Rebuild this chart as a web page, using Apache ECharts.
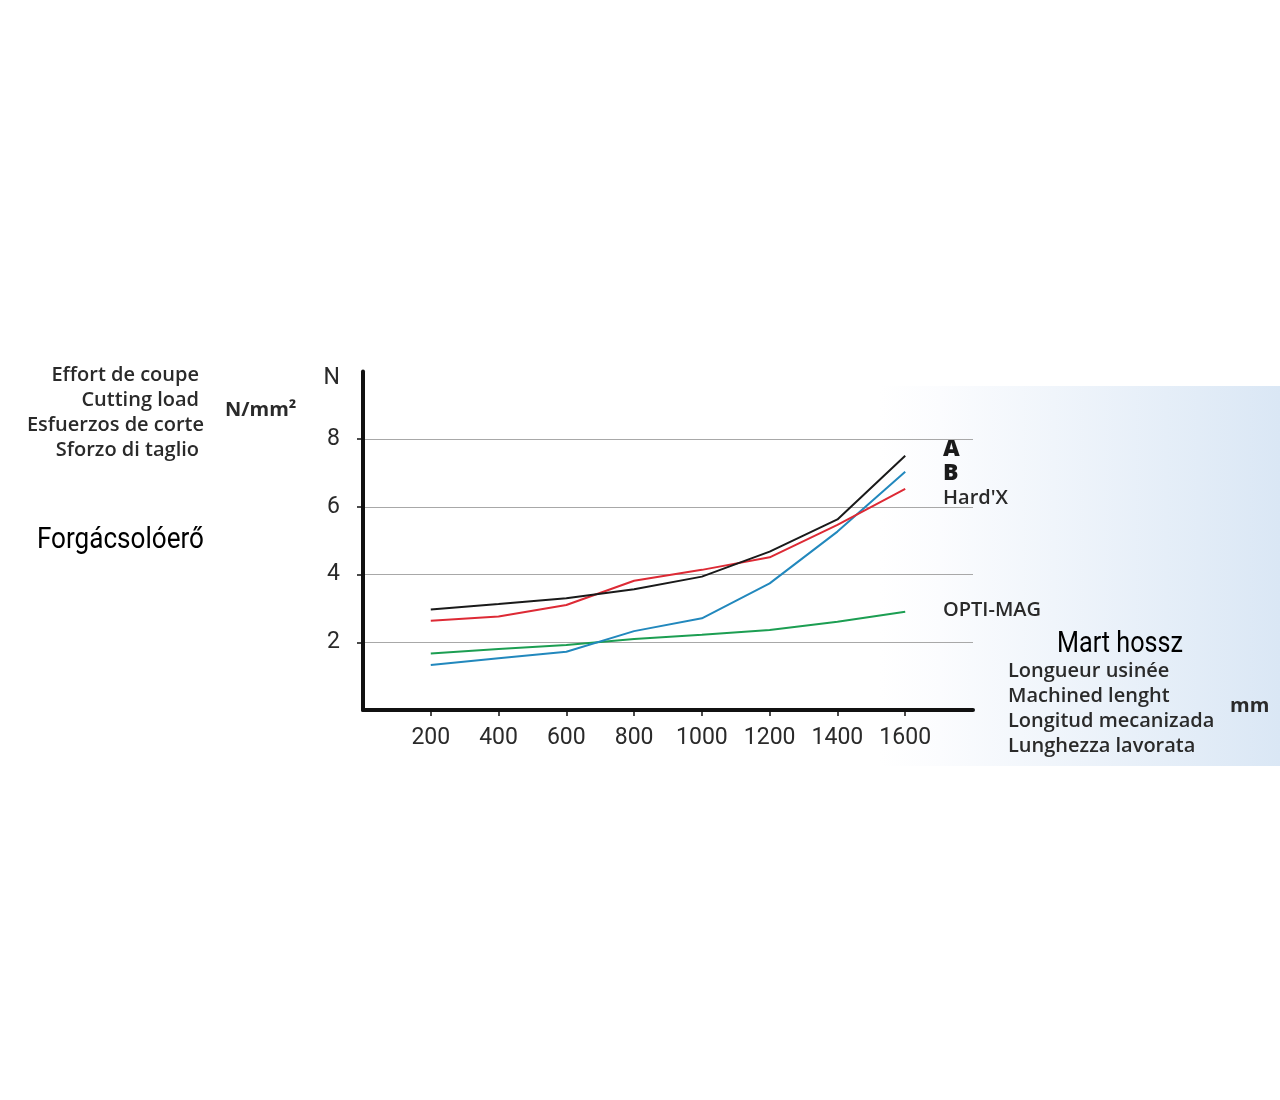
<!DOCTYPE html>
<html>
<head>
<meta charset="utf-8">
<script src="https://cdn.jsdelivr.net/npm/echarts@6/dist/echarts.min.js"></script>
<style>html,body{margin:0;padding:0;background:#fff}#c{width:1280px;height:1100px}</style>
</head>
<body>
<div id="c"></div>
<script>
var lengths = [200, 400, 600, 800, 1000, 1200, 1400, 1600];
var seriesA = [2.97, 3.13, 3.30, 3.57, 3.94, 4.68, 5.63, 7.51];
var seriesHardX = [2.64, 2.76, 3.10, 3.82, 4.14, 4.51, 5.47, 6.53];
var seriesB = [1.33, 1.53, 1.72, 2.33, 2.71, 3.74, 5.27, 7.04];
var seriesOptiMag = [1.67, 1.80, 1.92, 2.10, 2.22, 2.36, 2.61, 2.90];
var yTickLabels = [2, 4, 6, 8, 10];
var leftTitles = ['Effort de coupe', 'Cutting load', 'Esfuerzos de corte', 'Sforzo di taglio'];
var bottomTitles = ['Longueur usinée', 'Machined lenght', 'Longitud mecanizada', 'Lunghezza lavorata'];

function pairs(vals) { return lengths.map(function (x, i) { return [x, vals[i]]; }); }

var narrow = "Roboto, 'Noto Sans', sans-serif";
var semi = "'Open Sans', 'Noto Sans', sans-serif";

var chart = echarts.init(document.getElementById('c'));
function mk(name, data, color) {
  return { name: name, type: 'line', data: pairs(data), symbol: 'none', smooth: false,
    lineStyle: { color: color, width: 2 }, z: 5 };
}
var graphics = [
  { type: 'rect', shape: { x: 880, y: 386, width: 400, height: 380 }, z: -10,
    style: { fill: new echarts.graphic.LinearGradient(0, 0, 1, 0, [
      { offset: 0, color: 'rgba(255,255,255,1)' },
      { offset: 0.15, color: '#fbfcfe' },
      { offset: 1, color: '#dae7f5' }]) } }
];
leftTitles.forEach(function (t, i) {
  graphics.push({ type: 'text', x: i === 2 ? 204 : 199, y: 375 + i * 25,
    style: { text: t, align: 'right', verticalAlign: 'middle', font: '600 20px ' + semi, fill: '#2a2a2a' } });
});
graphics.push({ type: 'text', x: 225, y: 410, style: { text: 'N/mm²', align: 'left', verticalAlign: 'middle', font: '700 20px ' + semi, fill: '#2a2a2a' } });
graphics.push({ type: 'text', x: 204, y: 540, scaleX: 0.87, style: { text: 'Forgácsolóerő', align: 'right', verticalAlign: 'middle', font: '30px ' + narrow, fill: '#000' } });
graphics.push({ type: 'text', x: 943, y: 449, style: { text: 'A', align: 'left', verticalAlign: 'middle', font: '800 23px ' + semi, fill: '#1a1a1a' } });
graphics.push({ type: 'text', x: 943, y: 473, style: { text: 'B', align: 'left', verticalAlign: 'middle', font: '800 23px ' + semi, fill: '#1a1a1a' } });
graphics.push({ type: 'text', x: 943, y: 498, style: { text: "Hard'X", align: 'left', verticalAlign: 'middle', font: '600 20px ' + semi, fill: '#2a2a2a' } });
graphics.push({ type: 'text', x: 943, y: 610, style: { text: 'OPTI-MAG', align: 'left', verticalAlign: 'middle', font: '600 20px ' + semi, fill: '#2a2a2a' } });
graphics.push({ type: 'text', x: 1120, y: 644, scaleX: 0.84, style: { text: 'Mart hossz', align: 'center', verticalAlign: 'middle', font: '30px ' + narrow, fill: '#000' } });
bottomTitles.forEach(function (t, i) {
  graphics.push({ type: 'text', x: 1008, y: 671 + i * 25,
    style: { text: t, align: 'left', verticalAlign: 'middle', font: '600 20px ' + semi, fill: '#2a2a2a' } });
});
graphics.push({ type: 'text', x: 1230, y: 706, style: { text: 'mm', align: 'left', verticalAlign: 'middle', font: '700 20px ' + semi, fill: '#2a2a2a' } });

chart.setOption({
  animation: false,
  backgroundColor: '#fff',
  grid: { left: 363, right: 307, top: 371.5, bottom: 390, containLabel: false },
  xAxis: {
    type: 'value', min: 0, max: 1800, interval: 200,
    axisLine: { show: true, lineStyle: { color: '#111', width: 4 } },
    axisTick: { show: true, inside: false, length: 6, customValues: lengths, lineStyle: { color: '#111', width: 1.5 } },
    axisLabel: { customValues: lengths, margin: 17, fontFamily: narrow, fontSize: 23, color: '#2a2a2a',
      formatter: function (v) { return String(v); } },
    splitLine: { show: false }
  },
  yAxis: {
    type: 'value', min: 0, max: 10, interval: 2,
    axisLine: { show: true, onZero: false, lineStyle: { color: '#111', width: 4 } },
    axisTick: { show: true, length: 6, customValues: [2, 4, 6, 8], lineStyle: { color: '#111', width: 1.5 } },
    axisLabel: { customValues: yTickLabels, margin: 23, fontFamily: narrow, fontSize: 23, color: '#2a2a2a',
      formatter: function (v) { return v === 10 ? '{n|N}' : String(v); },
      rich: { n: { fontFamily: narrow, fontSize: 23, color: '#2a2a2a', padding: [14, 0, 0, 0] } } },
    splitLine: { show: true, lineStyle: { color: '#a8a8a8', width: 1.2 } }
  },
  series: [
    mk('OPTI-MAG', seriesOptiMag, '#1c9e52'),
    mk('B', seriesB, '#2288bd'),
    mk("Hard'X", seriesHardX, '#dd2a35'),
    mk('A', seriesA, '#1a1a1a')
  ],
  graphic: graphics
});
</script>
</body>
</html>
